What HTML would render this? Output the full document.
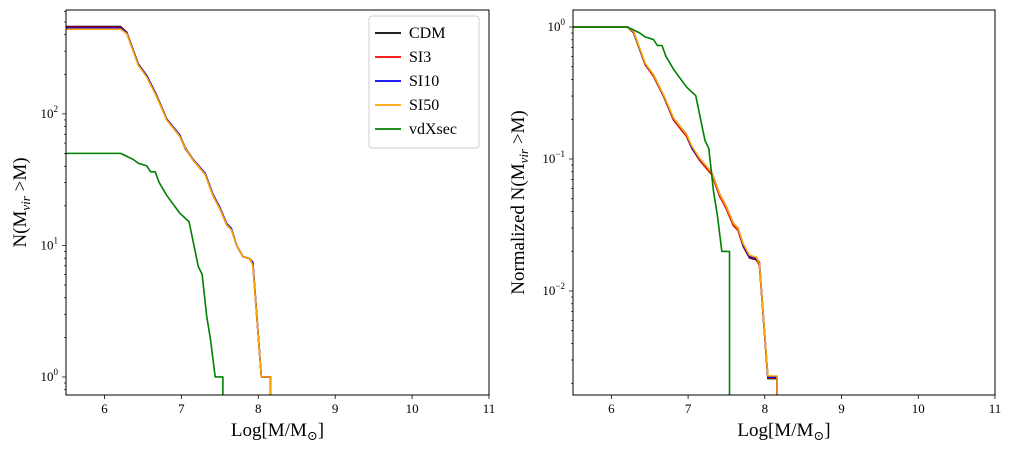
<!DOCTYPE html>
<html><head><meta charset="utf-8">
<style>
html,body{margin:0;padding:0;background:#fff;width:1012px;height:453px;overflow:hidden;}
svg{display:block;font-family:"Liberation Serif","DejaVu Serif",serif;}
</style></head>
<body>
<svg id="chart" width="1012" height="453"></svg>
<script>
const massLogs = [5.5, 6.21, 6.29, 6.44, 6.55, 6.68, 6.81, 6.98, 7.05, 7.15, 7.31, 7.41, 7.50, 7.59, 7.65, 7.72, 7.80, 7.89, 7.93, 8.04, 8.16, 8.16];
const cdmLogN  = [2.664, 2.664, 2.62, 2.38, 2.29, 2.14, 1.96, 1.835, 1.745, 1.655, 1.545, 1.385, 1.285, 1.16, 1.125, 1.0, 0.915, 0.90, 0.86, 0.0, 0.0, -3];
const si3LogN  = [2.658, 2.658, 2.615, 2.375, 2.285, 2.135, 1.955, 1.83, 1.74, 1.65, 1.54, 1.38, 1.28, 1.155, 1.12, 1.0, 0.915, 0.90, 0.85, 0.0, 0.0, -3];
const si10LogN = [2.653, 2.653, 2.615, 2.375, 2.29, 2.135, 1.96, 1.84, 1.735, 1.655, 1.55, 1.39, 1.29, 1.165, 1.13, 1.0, 0.915, 0.90, 0.87, 0.0, 0.0, -3];
const si50LogN = [2.644, 2.644, 2.61, 2.37, 2.28, 2.13, 1.954, 1.83, 1.74, 1.65, 1.54, 1.38, 1.28, 1.156, 1.12, 1.0, 0.915, 0.90, 0.85, 0.0, 0.0, -3];
const vdMass   = [5.5, 6.21, 6.37, 6.44, 6.55, 6.60, 6.66, 6.71, 6.81, 6.98, 7.10, 7.22, 7.27, 7.33, 7.38, 7.44, 7.54, 7.54];
const vdLogN   = [1.70, 1.70, 1.655, 1.625, 1.605, 1.56, 1.56, 1.48, 1.38, 1.245, 1.18, 0.84, 0.78, 0.46, 0.28, 0.0, 0.0, -3];
const seriesNames = ["CDM", "SI3", "SI10", "SI50", "vdXsec"];
const seriesColors = ["#000000", "#ff0000", "#0000ff", "#ffa500", "#008000"];
const xTicks = [6, 7, 8, 9, 10, 11];

const NS = "http://www.w3.org/2000/svg";
const svg = document.getElementById("chart");
function mk(tag, attrs, parent) {
  const e = document.createElementNS(NS, tag);
  for (const k in attrs) e.setAttribute(k, attrs[k]);
  (parent || svg).appendChild(e);
  return e;
}
const seriesX = [massLogs, massLogs, massLogs, massLogs, vdMass];
const seriesY = [cdmLogN, si3LogN, si10LogN, si50LogN, vdLogN];

function panel(opt) {
  const g = mk("g", {});
  
  
  const L = opt.L, R = opt.R, T = 10, B = 395;
  const xs = v => L + (v - 5.5) / (11 - 5.5) * (R - L);
  const ys = lv => B - (Math.max(lv, opt.ymin - 0.005) - opt.ymin) / (opt.ymax - opt.ymin) * (B - T);
  const clipId = "clip" + opt.name;
  const cp = mk("clipPath", {id: clipId}, g);
  mk("rect", {x: L, y: T, width: R - L, height: B - T}, cp);
  const lines = mk("g", {"clip-path": "url(#" + clipId + ")"}, g);
  for (let s = 0; s < 5; s++) {
    const X = seriesX[s], Y = seriesY[s];
    const base = opt.norm ? Y[0] : 0;
    const pts = X.map((x, i) => xs(x).toFixed(2) + "," + ys(Y[i] - base).toFixed(2)).join(" ");
    const pl = mk("polyline", {points: pts, fill: "none", stroke: seriesColors[s], "stroke-width": 1.6, "stroke-linejoin": "round"}, lines);
    
    
  }
  const frame = mk("rect", {x: L, y: T, width: R - L, height: B - T, fill: "none", stroke: "#000", "stroke-width": 1}, g);
  
  
  xTicks.forEach(t => {
    const x = xs(t);
    mk("line", {x1: x, x2: x, y1: B, y2: B + 4, stroke: "#000", "stroke-width": 0.8}, g);
    const tx = mk("text", {x: x, y: B + 18, "text-anchor": "middle", "font-size": 13}, g);
    tx.textContent = t;
    
    
  });
  for (let d = Math.floor(opt.ymin); d <= Math.ceil(opt.ymax); d++) {
    for (let m = 1; m < 10; m++) {
      const lv = d + Math.log10(m);
      if (lv < opt.ymin || lv > opt.ymax) continue;
      const y = ys(lv);
      mk("line", {x1: L - (m === 1 ? 4 : 2), x2: L, y1: y, y2: y, stroke: "#000", "stroke-width": 0.7}, g);
      if (m === 1) {
        const tx = mk("text", {x: L - 8, y: y + 4, "text-anchor": "end", "font-size": 13}, g);
        
        
        tx.appendChild(document.createTextNode("10"));
        const sup = mk("tspan", {dy: -6, "font-size": 9}, tx);
        sup.textContent = d < 0 ? "\u2212" + (-d) : d;
      }
    }
  }
  const xl = mk("text", {x: (L + R) / 2, y: 436, "text-anchor": "middle", "font-size": 19}, g);
  
  
  xl.appendChild(document.createTextNode("Log[M/M"));
  const sb = mk("tspan", {dy: 4, "font-size": 13}, xl); sb.textContent = "\u2299";
  const rb = mk("tspan", {dy: -4}, xl); rb.textContent = "]";
  const yl = mk("text", {transform: "translate(" + opt.ylx + "," + ((T + B) / 2) + ") rotate(-90)", "text-anchor": "middle", "font-size": 19}, g);
  
  
  yl.appendChild(document.createTextNode(opt.ylabel + "N(M"));
  const s1 = mk("tspan", {dy: 4, "font-size": 13, "font-style": "italic"}, yl); s1.textContent = "vir";
  const s2 = mk("tspan", {dy: -4}, yl); s2.textContent = " >M)";
}
panel({name: "left-panel", L: 66, R: 489, ymin: -0.137, ymax: 2.79, norm: false, ylabel: "", ylx: 26});
panel({name: "right-panel", L: 573, R: 995, ymin: -2.788, ymax: 0.129, norm: true, ylabel: "Normalized ", ylx: 524});

const lg = mk("g", {});


mk("rect", {x: 369, y: 16, width: 110, height: 132, rx: 3, fill: "#fff", stroke: "#ccc", "stroke-width": 1}, lg);
seriesNames.forEach((n, i) => {
  const y = 33 + i * 24;
  const e = mk("g", {}, lg);
  
  
  mk("line", {x1: 375, x2: 401, y1: y, y2: y, stroke: seriesColors[i], "stroke-width": 1.8}, e);
  const t = mk("text", {x: 409, y: y + 5, "font-size": 16}, e);
  t.textContent = n;
});
</script>
</body></html>
